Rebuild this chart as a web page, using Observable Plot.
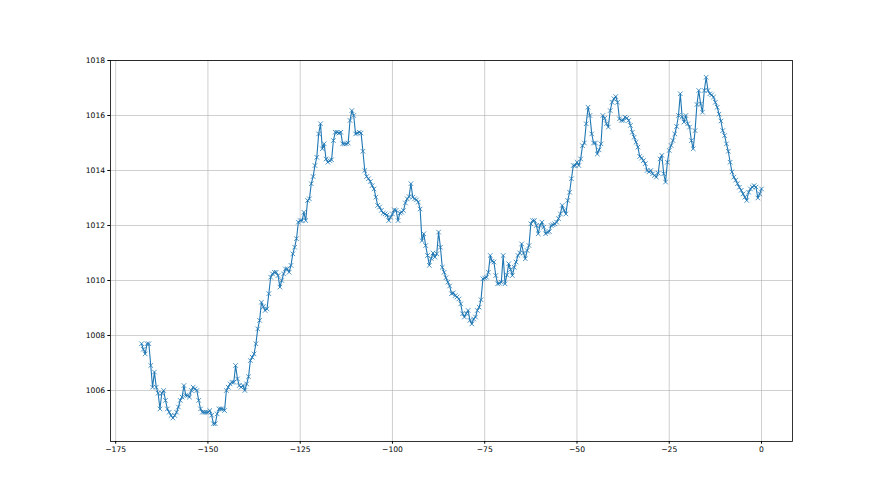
<!DOCTYPE html>
<html>
<head>
<meta charset="utf-8">
<script src="https://cdn.jsdelivr.net/npm/d3@7"></script>
<script src="https://cdn.jsdelivr.net/npm/@observablehq/plot@0.6"></script>
<style>
  html, body { margin: 0; padding: 0; background: #ffffff; }
  #chart svg { display: block; }
</style>
</head>
<body>
<div id="chart"></div>
<script>
// Half-hourly pressure readings (hPa), from -168 h to 0 h
const startHour = -168;
const stepHours = 0.5;
const pressure = [
  1007.70, 1007.50, 1007.33, 1007.70, 1007.70, 1006.91, 1006.12, 1006.67, 1006.12, 1005.90, 1005.33, 1005.90, 1006.00, 1005.64, 1005.33, 1005.21, 1005.09, 1005.00, 1005.09, 1005.21,
  1005.40, 1005.64, 1005.76, 1006.18, 1005.82, 1005.82, 1005.76, 1006.00, 1006.12, 1006.06, 1006.00, 1005.64, 1005.33, 1005.21, 1005.21, 1005.21, 1005.21, 1005.27, 1005.10, 1004.79,
  1004.79, 1005.15, 1005.33, 1005.33, 1005.33, 1005.27, 1006.00, 1006.12, 1006.24, 1006.30, 1006.30, 1006.91, 1006.42, 1006.18, 1006.12, 1006.18, 1006.00, 1006.24, 1006.50, 1007.09,
  1007.21, 1007.33, 1007.70, 1008.24, 1008.55, 1009.21, 1009.05, 1008.91, 1008.97, 1009.52, 1010.12, 1010.24, 1010.30, 1010.30, 1010.18, 1009.76, 1010.00, 1010.24, 1010.42, 1010.42,
  1010.30, 1010.55, 1010.97, 1011.21, 1011.52, 1012.12, 1012.18, 1012.18, 1012.48, 1012.18, 1012.91, 1012.97, 1013.52, 1013.78, 1014.18, 1014.48, 1015.33, 1015.70, 1014.79, 1014.97,
  1014.42, 1014.30, 1014.36, 1014.39, 1015.09, 1015.39, 1015.39, 1015.36, 1015.39, 1014.97, 1014.97, 1014.97, 1015.00, 1015.82, 1016.18, 1016.00, 1015.33, 1015.36, 1015.39, 1015.36,
  1014.70, 1014.00, 1013.78, 1013.70, 1013.60, 1013.45, 1013.33, 1013.03, 1012.73, 1012.67, 1012.55, 1012.45, 1012.42, 1012.38, 1012.18, 1012.30, 1012.42, 1012.57, 1012.55, 1012.18,
  1012.45, 1012.48, 1012.55, 1012.82, 1012.97, 1013.05, 1013.52, 1013.03, 1012.97, 1012.93, 1012.85, 1012.60, 1011.45, 1011.70, 1011.27, 1010.91, 1010.55, 1010.80, 1011.00, 1010.85,
  1010.97, 1011.76, 1011.21, 1010.48, 1010.30, 1010.10, 1009.94, 1009.80, 1009.52, 1009.55, 1009.45, 1009.40, 1009.33, 1009.15, 1008.79, 1008.67, 1008.80, 1008.91, 1008.55, 1008.42,
  1008.60, 1008.67, 1008.91, 1009.03, 1009.30, 1010.06, 1010.09, 1010.12, 1010.30, 1010.91, 1010.70, 1010.67, 1010.18, 1009.88, 1009.90, 1009.94, 1010.91, 1009.88, 1010.20, 1010.61,
  1010.40, 1010.18, 1010.48, 1010.67, 1010.91, 1011.00, 1011.33, 1011.00, 1010.79, 1011.09, 1011.27, 1012.06, 1012.18, 1012.18, 1012.00, 1011.70, 1012.00, 1012.12, 1011.94, 1011.70,
  1011.76, 1011.78, 1012.00, 1012.03, 1012.06, 1012.12, 1012.25, 1012.42, 1012.73, 1012.55, 1012.42, 1012.91, 1013.21, 1013.70, 1014.18, 1014.18, 1014.30, 1014.18, 1014.42, 1014.90,
  1015.00, 1015.70, 1016.30, 1016.00, 1015.33, 1015.00, 1015.00, 1014.60, 1014.75, 1014.97, 1016.00, 1015.90, 1015.70, 1015.58, 1016.18, 1016.48, 1016.61, 1016.69, 1016.48, 1015.88,
  1015.82, 1015.82, 1015.94, 1015.90, 1015.82, 1015.64, 1015.39, 1015.21, 1015.03, 1014.85, 1014.51, 1014.45, 1014.36, 1014.25, 1014.00, 1013.95, 1014.00, 1013.88, 1013.82, 1013.76,
  1013.90, 1014.42, 1014.55, 1013.88, 1013.58, 1014.30, 1014.73, 1014.91, 1015.09, 1015.33, 1015.60, 1016.00, 1016.79, 1015.94, 1015.76, 1016.00, 1015.70, 1015.58, 1015.09, 1014.79,
  1015.45, 1016.40, 1016.91, 1016.42, 1016.12, 1016.91, 1017.39, 1016.91, 1016.79, 1016.75, 1016.67, 1016.48, 1016.30, 1016.05, 1015.80, 1015.45, 1015.27, 1014.97, 1014.70, 1014.30,
  1013.95, 1013.76, 1013.65, 1013.52, 1013.39, 1013.28, 1013.15, 1013.03, 1012.91, 1013.21, 1013.33, 1013.40, 1013.45, 1013.40, 1013.00, 1013.15, 1013.33
];
const xTicks = [-175, -150, -125, -100, -75, -50, -25, 0];
const yTicks = [1006, 1008, 1010, 1012, 1014, 1016, 1018];

const data = pressure.map((v, i) => ({ hour: startHour + i * stepHours, value: v }));

const chart = Plot.plot({
  width: 880,
  height: 495,
  marginLeft: 110,
  marginRight: 88,
  marginTop: 60,
  marginBottom: 54,
  style: { fontFamily: "DejaVu Sans", fontSize: "7.6px", background: "#ffffff", color: "#000000" },
  x: { domain: [-176.4, 8.4], ticks: xTicks, tickSize: 2.7, tickPadding: 2.7, label: null },
  y: { domain: [1004.145, 1018.0], ticks: yTicks, tickFormat: "d", tickSize: 2.7, tickPadding: 2.7, label: null },
  marks: [
    Plot.gridX(xTicks, { stroke: "#b0b0b0", strokeOpacity: 1, strokeWidth: 0.6 }),
    Plot.gridY(yTicks, { stroke: "#b0b0b0", strokeOpacity: 1, strokeWidth: 0.6 }),
    Plot.line(data, { x: "hour", y: "value", stroke: "#1f77b4", strokeWidth: 1.1 }),
    Plot.dot(data, { x: "hour", y: "value", symbol: "times", r: 2.2, stroke: "#1f77b4", strokeWidth: 0.8 }),
    Plot.frame({ stroke: "#000000", strokeWidth: 0.8 })
  ]
});
document.getElementById("chart").appendChild(chart);
</script>
</body>
</html>
